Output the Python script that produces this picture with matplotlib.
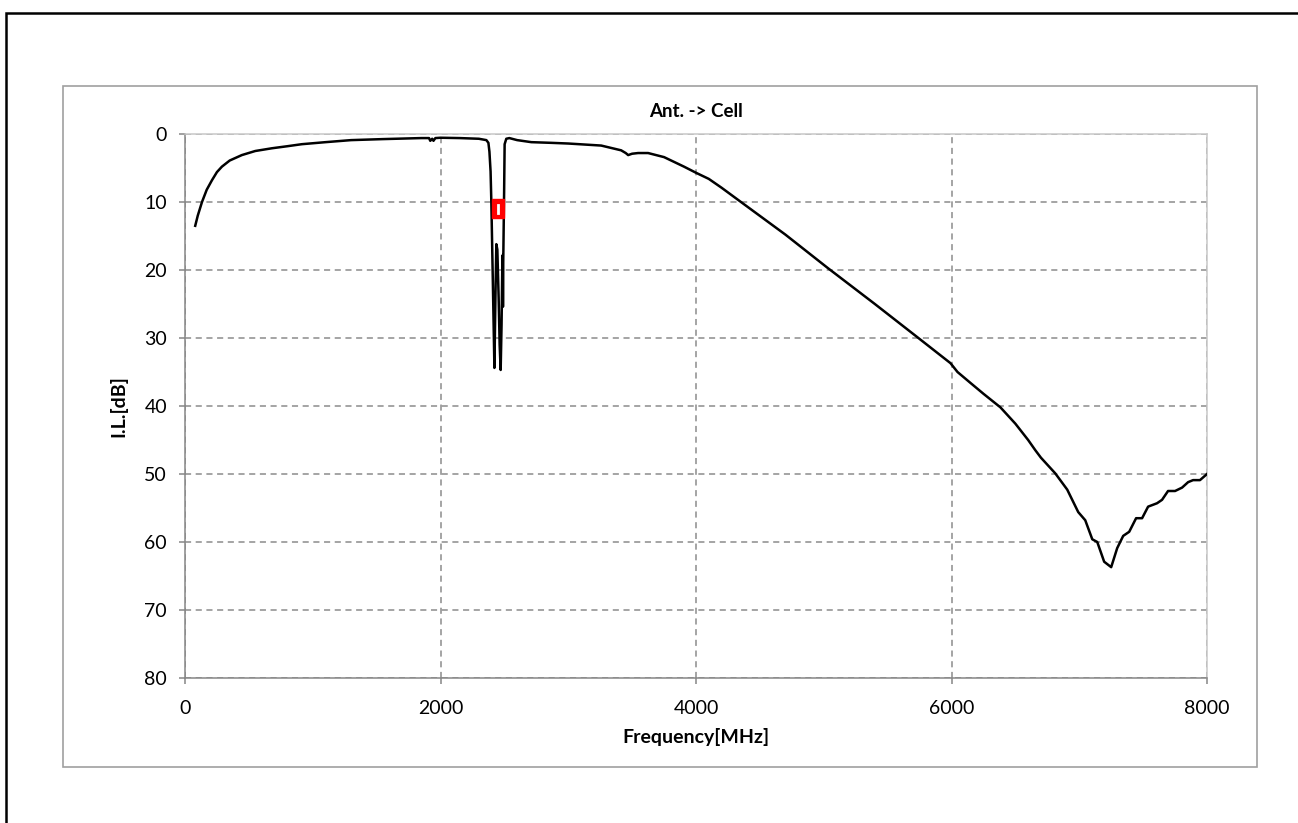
import matplotlib.pyplot as plt
from matplotlib.patches import Rectangle

plt.rcParams['font.family'] = ['Lato', 'DejaVu Sans']

freq_mhz = [80, 100, 133, 170, 211, 250, 289, 350, 445, 550, 680, 800, 914, 1100,
            1300, 1550, 1850, 1910, 1920, 1935, 1945, 1960, 2000, 2150, 2300, 2359,
            2375, 2383, 2392, 2398, 2410, 2422, 2430, 2437, 2445, 2455, 2463, 2471,
            2478, 2484, 2487, 2489, 2491, 2495, 2498, 2502, 2515, 2539, 2600, 2711,
            2867, 3000, 3258, 3414, 3450, 3469, 3500, 3547, 3625, 3750, 3906, 4000,
            4100, 4200, 4352, 4700, 5031, 5400, 5734, 5992, 6047, 6148, 6250, 6383,
            6500, 6600, 6656, 6700, 6812, 6906, 6992, 7047, 7102, 7141, 7195, 7250,
            7297, 7344, 7391, 7445, 7492, 7539, 7609, 7648, 7695, 7750, 7805, 7852,
            7891, 7945, 8000]
loss_db = [13.5, 12.0, 10.0, 8.2, 6.8, 5.6, 4.8, 3.9, 3.1, 2.5, 2.1, 1.8, 1.5, 1.2,
           0.9, 0.75, 0.6, 0.6, 1.0, 0.7, 1.0, 0.6, 0.55, 0.6, 0.7, 0.9,
           1.3, 2.6, 5.5, 10.0, 22.0, 34.4, 24.0, 16.2, 17.0, 24.0, 31.0, 34.7,
           28.0, 19.0, 17.8, 25.4, 19.0, 13.0, 8.5, 1.5, 0.7, 0.6, 0.9, 1.2,
           1.3, 1.4, 1.7, 2.4, 2.8, 3.1, 2.9, 2.8, 2.8, 3.4, 4.8, 5.7,
           6.6, 7.9, 10.0, 14.8, 19.7, 25.0, 29.9, 33.7, 35.0, 36.6, 38.2, 40.2,
           42.6, 45.0, 46.5, 47.6, 49.9, 52.3, 55.6, 56.8, 59.6, 60.0, 62.9, 63.7,
           60.9, 59.1, 58.5, 56.5, 56.5, 54.8, 54.3, 53.8, 52.5, 52.5, 52.0, 51.2,
           50.9, 50.9, 50.0]

# spec box (red)
spec_f = [2400, 2500]
spec_db = [9.6, 12.4]

x_ticks = [0, 2000, 4000, 6000, 8000]
y_ticks = [0, 10, 20, 30, 40, 50, 60, 70, 80]

fig = plt.figure(figsize=(12.98, 8.23), dpi=100)
ax = fig.add_axes([185/1298, 1-678/823, (1207-185)/1298, (678-134)/823])

# frames around the chart
fig.add_artist(Rectangle((63/1298, 1-767/823), (1257-63)/1298, (767-86)/823,
                         transform=fig.transFigure, fill=False, ec='#a0a0a0', lw=1.2))
fig.add_artist(Rectangle((6/1298, -0.2), 1.2, 1.2-13/823,
                         transform=fig.transFigure, fill=False, ec='black', lw=1.8))

ax.plot(freq_mhz, loss_db, color='black', lw=1.8, zorder=3)

ax.add_patch(Rectangle((spec_f[0], spec_db[0]), spec_f[1]-spec_f[0], spec_db[1]-spec_db[0],
                       fc='#ff0000', ec='#ff0000', lw=1, zorder=4))
mid = (spec_f[0] + spec_f[1]) / 2
ax.plot([mid, mid], [spec_db[0] + 0.8, spec_db[1] - 0.8], color='white', lw=2, zorder=5)

ax.set_xlim(0, 8000)
ax.set_ylim(80, 0)
ax.set_xticks(x_ticks)
ax.set_yticks(y_ticks)
ax.grid(True, ls=(0, (4, 3)), color='#8c8c8c', lw=1.1)
for s in ['top', 'right']:
    ax.spines[s].set_color('#c8c8c8')
    ax.spines[s].set_linewidth(1.1)
for s in ['left', 'bottom']:
    ax.spines[s].set_color('#868686')
    ax.spines[s].set_linewidth(1.1)
ax.tick_params(axis='both', labelsize=14, color='#868686', length=4, width=1.1)
ax.tick_params(axis='x', pad=12)
ax.tick_params(axis='y', pad=9)

ax.set_title('Ant. -> Cell', fontsize=13.5, fontweight='bold', pad=12)
ax.set_xlabel('Frequency[MHz]', fontsize=14, fontweight='bold', labelpad=8)
ax.set_ylabel('I.L.[dB]', fontsize=14, fontweight='bold', labelpad=12)

fig.savefig('out.png', dpi=100)
